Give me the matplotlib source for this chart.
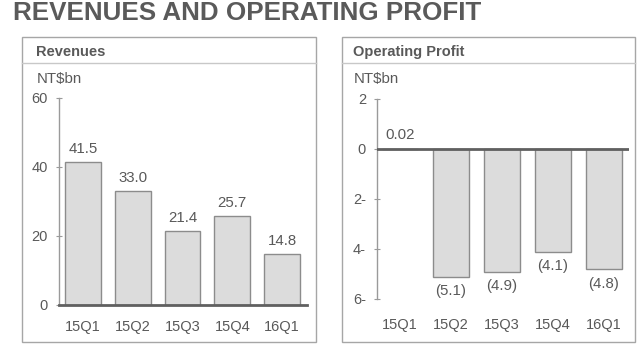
import matplotlib
matplotlib.use('Agg')
import matplotlib.pyplot as plt
from matplotlib.patches import Rectangle
from matplotlib.lines import Line2D

plt.rcParams['font.family'] = ['Liberation Sans', 'DejaVu Sans']

# data
quarters = ['15Q1', '15Q2', '15Q3', '15Q4', '16Q1']
revenues = [41.5, 33.0, 21.4, 25.7, 14.8]
rev_labels = ['41.5', '33.0', '21.4', '25.7', '14.8']
op_profit = [0.02, -5.1, -4.9, -4.1, -4.8]
op_labels = ['0.02', '(5.1)', '(4.9)', '(4.1)', '(4.8)']
rev_ticks = [0, 20, 40, 60]
op_ticks = [2, 0, -2, -4, -6]
op_ticklabels = ['2', '0', '2-', '4-', '6-']

W, H = 640, 357
txt = '#595959'
bar_fc = '#dcdcdc'
bar_ec = '#8c8c8c'
box_ec = '#a6a6a6'

fig = plt.figure(figsize=(W / 100, H / 100), dpi=100)


def ax_rect(x0, y_top, x1, y_bot):
    return [x0 / W, 1 - y_bot / H, (x1 - x0) / W, (y_bot - y_top) / H]


def panel(x0, x1, title, tx):
    # outer box + header separator
    fig.patches.append(Rectangle((x0 / W, 1 - 342 / H), (x1 - x0) / W, (342 - 37) / H,
                                 transform=fig.transFigure, fill=False, ec=box_ec, lw=1.0))
    fig.lines.append(Line2D([x0 / W, x1 / W], [1 - 63 / H, 1 - 63 / H],
                            transform=fig.transFigure, color='#c8c8c8', lw=1.0))
    fig.text(tx / W, 1 - 52 / H, title, fontsize=10.5, fontweight='bold',
             color=txt, va='center', ha='left')


fig.text(13 / W, 1 - 12.5 / H, 'REVENUES AND OPERATING PROFIT', fontsize=18.7,
         fontweight='bold', color='#5a5a5a', va='center', ha='left')

panel(22, 316, 'Revenues', 36)
panel(342, 635, 'Operating Profit', 353)
fig.text(37 / W, 1 - 79 / H, 'NT$bn', fontsize=10.8, color=txt, va='center', ha='left')
fig.text(354 / W, 1 - 79 / H, 'NT$bn', fontsize=10.8, color=txt, va='center', ha='left')

# ---- Revenues
ax1 = fig.add_axes(ax_rect(59, 98, 307, 305))
x = range(len(quarters))
ax1.bar(x, revenues, width=0.72, color=bar_fc, edgecolor=bar_ec, linewidth=1.0, zorder=2)
for i, (v, s) in enumerate(zip(revenues, rev_labels)):
    ax1.annotate(s, (i, v), xytext=(0, 4.5), textcoords='offset points',
                 ha='center', va='bottom', fontsize=10.8, color=txt)
ax1.set_xlim(-0.48, 4.5)
ax1.set_ylim(0, 60)
ax1.set_yticks(rev_ticks)
ax1.set_xticks(list(x))
ax1.set_xticklabels(quarters)

# ---- Operating profit
ax2 = fig.add_axes(ax_rect(377, 99, 629, 299))
ax2.bar(x, op_profit, width=0.71, color=bar_fc, edgecolor=bar_ec, linewidth=1.0, zorder=2)
for i, (v, s) in enumerate(zip(op_profit, op_labels)):
    off = 5 if v > 0 else -5.5
    ax2.annotate(s, (i, v), xytext=(0, off), textcoords='offset points',
                 ha='center', va='bottom' if v > 0 else 'top', fontsize=10.8, color=txt)
ax2.axhline(0, color='#606060', lw=2.0, zorder=3)
ax2.set_xlim(-0.45, 4.49)
ax2.set_ylim(-6, 2)
ax2.set_yticks(op_ticks)
ax2.set_yticklabels(op_ticklabels)
ax2.set_xticks(list(x))
ax2.set_xticklabels(quarters)

for ax in (ax1, ax2):
    for sp in ('top', 'right'):
        ax.spines[sp].set_visible(False)
    ax.spines['left'].set_color('#9a9a9a')
    ax.spines['left'].set_linewidth(1.0)
    ax.tick_params(axis='y', direction='inout', length=4, width=0.8, color='#9a9a9a',
                   labelsize=10.5, labelcolor=txt, pad=6)
    ax.tick_params(axis='x', length=0, labelsize=10.5, labelcolor=txt)
    ax.patch.set_visible(False)

ax1.spines['bottom'].set_color('#606060')
ax1.spines['bottom'].set_linewidth(2.0)
ax1.tick_params(axis='x', pad=10.5)
ax2.spines['bottom'].set_visible(False)
ax2.tick_params(axis='x', pad=14)

fig.savefig('out.png', dpi=100)
